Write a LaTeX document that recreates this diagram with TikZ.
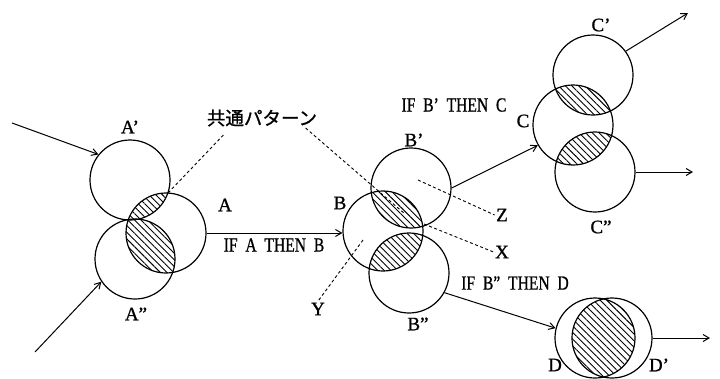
\documentclass[tikz,border=0pt]{standalone}
\usepackage{fontspec}
\setmainfont{Liberation Serif}[FakeBold=1]
\newfontfamily\jpfont{Noto Sans CJK JP}[FakeBold=1]
\newfontfamily\condfont{Liberation Serif}[FakeStretch=0.78, FakeBold=0.8, WordSpace=2]
\usetikzlibrary{arrows.meta,patterns.meta}

\begin{document}
\begin{tikzpicture}
    [x=1pt, y=-1pt,
    line width=1.2pt,
    ring/.style={circle, draw, minimum size=80pt, inner sep=0pt},
    hatch/.style={pattern={Lines[angle=-45,distance=4.7pt,line width=0.9pt]}},
    flow/.style={line width=1pt, -{Straight Barb[length=6pt,width=7pt]}},
    guide/.style={line width=0.9pt, dash pattern=on 3pt off 2.5pt},
    lbl/.style={font=\fontsize{19}{19}\selectfont, inner sep=1pt},
    iftext/.style={font=\condfont\fontsize{20}{20}\selectfont, inner sep=1pt},
    jp/.style={font=\jpfont\fontsize{18.5}{18.5}\selectfont, inner sep=1pt}]
        \useasboundingbox (0,0) rectangle (720,378);
        %% circles
        \node[ring] (Ap) at (130,180) {};
        \node[ring] (A) at (166,233) {};
        \node[ring] (App) at (135,259) {};
        \node[ring] (Bp) at (411,188) {};
        \node[ring] (B) at (383,231) {};
        \node[ring] (Bpp) at (409,273) {};
        \node[ring] (Cp) at (593,75) {};
        \node[ring] (C) at (573,125) {};
        \node[ring] (Cpp) at (595,172) {};
        \node[ring] (D) at (595,338) {};
        \node[ring] (Dp) at (612,338) {};

        %% common parts
        \begin{scope} \clip (Ap.center) circle (40pt); \fill[hatch] (A.center) circle (40pt); \end{scope}
        \begin{scope} \clip (A.center) circle (40pt); \fill[hatch] (App.center) circle (40pt); \end{scope}
        \begin{scope} \clip (Bp.center) circle (40pt); \fill[hatch] (B.center) circle (40pt); \end{scope}
        \begin{scope} \clip (B.center) circle (40pt); \fill[hatch] (Bpp.center) circle (40pt); \end{scope}
        \begin{scope} \clip (Cp.center) circle (40pt); \fill[hatch] (C.center) circle (40pt); \end{scope}
        \begin{scope} \clip (C.center) circle (40pt); \fill[hatch] (Cpp.center) circle (40pt); \end{scope}
        \begin{scope} \clip (D.center) circle (40pt); \fill[hatch] (Dp.center) circle (40pt); \end{scope}

        %% labels
        \node[lbl] (LAp) at (130,127) {A’};
        \node[lbl] (LA) at (225,205) {A};
        \node[lbl] (LApp) at (136,314) {A”};
        \node[lbl] (LB) at (340,203) {B};
        \node[lbl] (LBp) at (414,140) {B’};
        \node[lbl] (LBpp) at (418,324) {B”};
        \node[lbl] (LCp) at (601,25) {C’};
        \node[lbl] (LC) at (523,121) {C};
        \node[lbl] (LCpp) at (601,227) {C”};
        \node[lbl] (LD) at (555,365) {D};
        \node[lbl] (LDp) at (659,365) {D’};
        \node[lbl] (X) at (502,252) {X};
        \node[lbl] (Y) at (318,309) {Y};
        \node[lbl] (Z) at (502,215) {Z};
        \node[jp] (common) at (262,118) {共通パターン};
        \node[iftext] (ifAB) at (274,245) {IF A THEN B};
        \node[iftext] (ifBC) at (454,105) {IF B’ THEN C};
        \node[iftext] (ifBD) at (515,283) {IF B” THEN D};

        %% free ends
        \coordinate (inA1) at (12,123);
        \coordinate (inA2) at (35,352);
        \coordinate (outC1) at (688,13);
        \coordinate (outC2) at (693,172);
        \coordinate (outD) at (710,338);
        \coordinate (tipA) at (168,193);
        \coordinate (lensB) at (405,214);
        \coordinate (zin) at (418,180);
        \coordinate (xin) at (424,224);
        \coordinate (yin) at (363,240);

        \draw[flow] (inA1) -- (Ap.141);
        \draw[flow] (inA2) -- (App.214);
        \draw[flow] (A.east) -- (A.east -| B.west);
        \draw[flow] (Bp.east) -- (C.210);
        \draw[flow] (Bpp.-29) -- (D.166);
        \draw[flow] (Cp.36) -- (outC1);
        \draw[flow] (Cpp.east) -- (outC2);
        \draw[flow] (Dp.east) -- (outD);

        \draw[guide] ([xshift=18pt,yshift=-7pt]common.south west) -- (tipA);
        \draw[guide] ([xshift=-13pt]common.south east) -- (lensB);
        \draw[guide] (zin) -- (Z.west);
        \draw[guide] (xin) -- (X.west);
        \draw[guide] (yin) -- (Y.north);
    \end{tikzpicture}
\end{document}
